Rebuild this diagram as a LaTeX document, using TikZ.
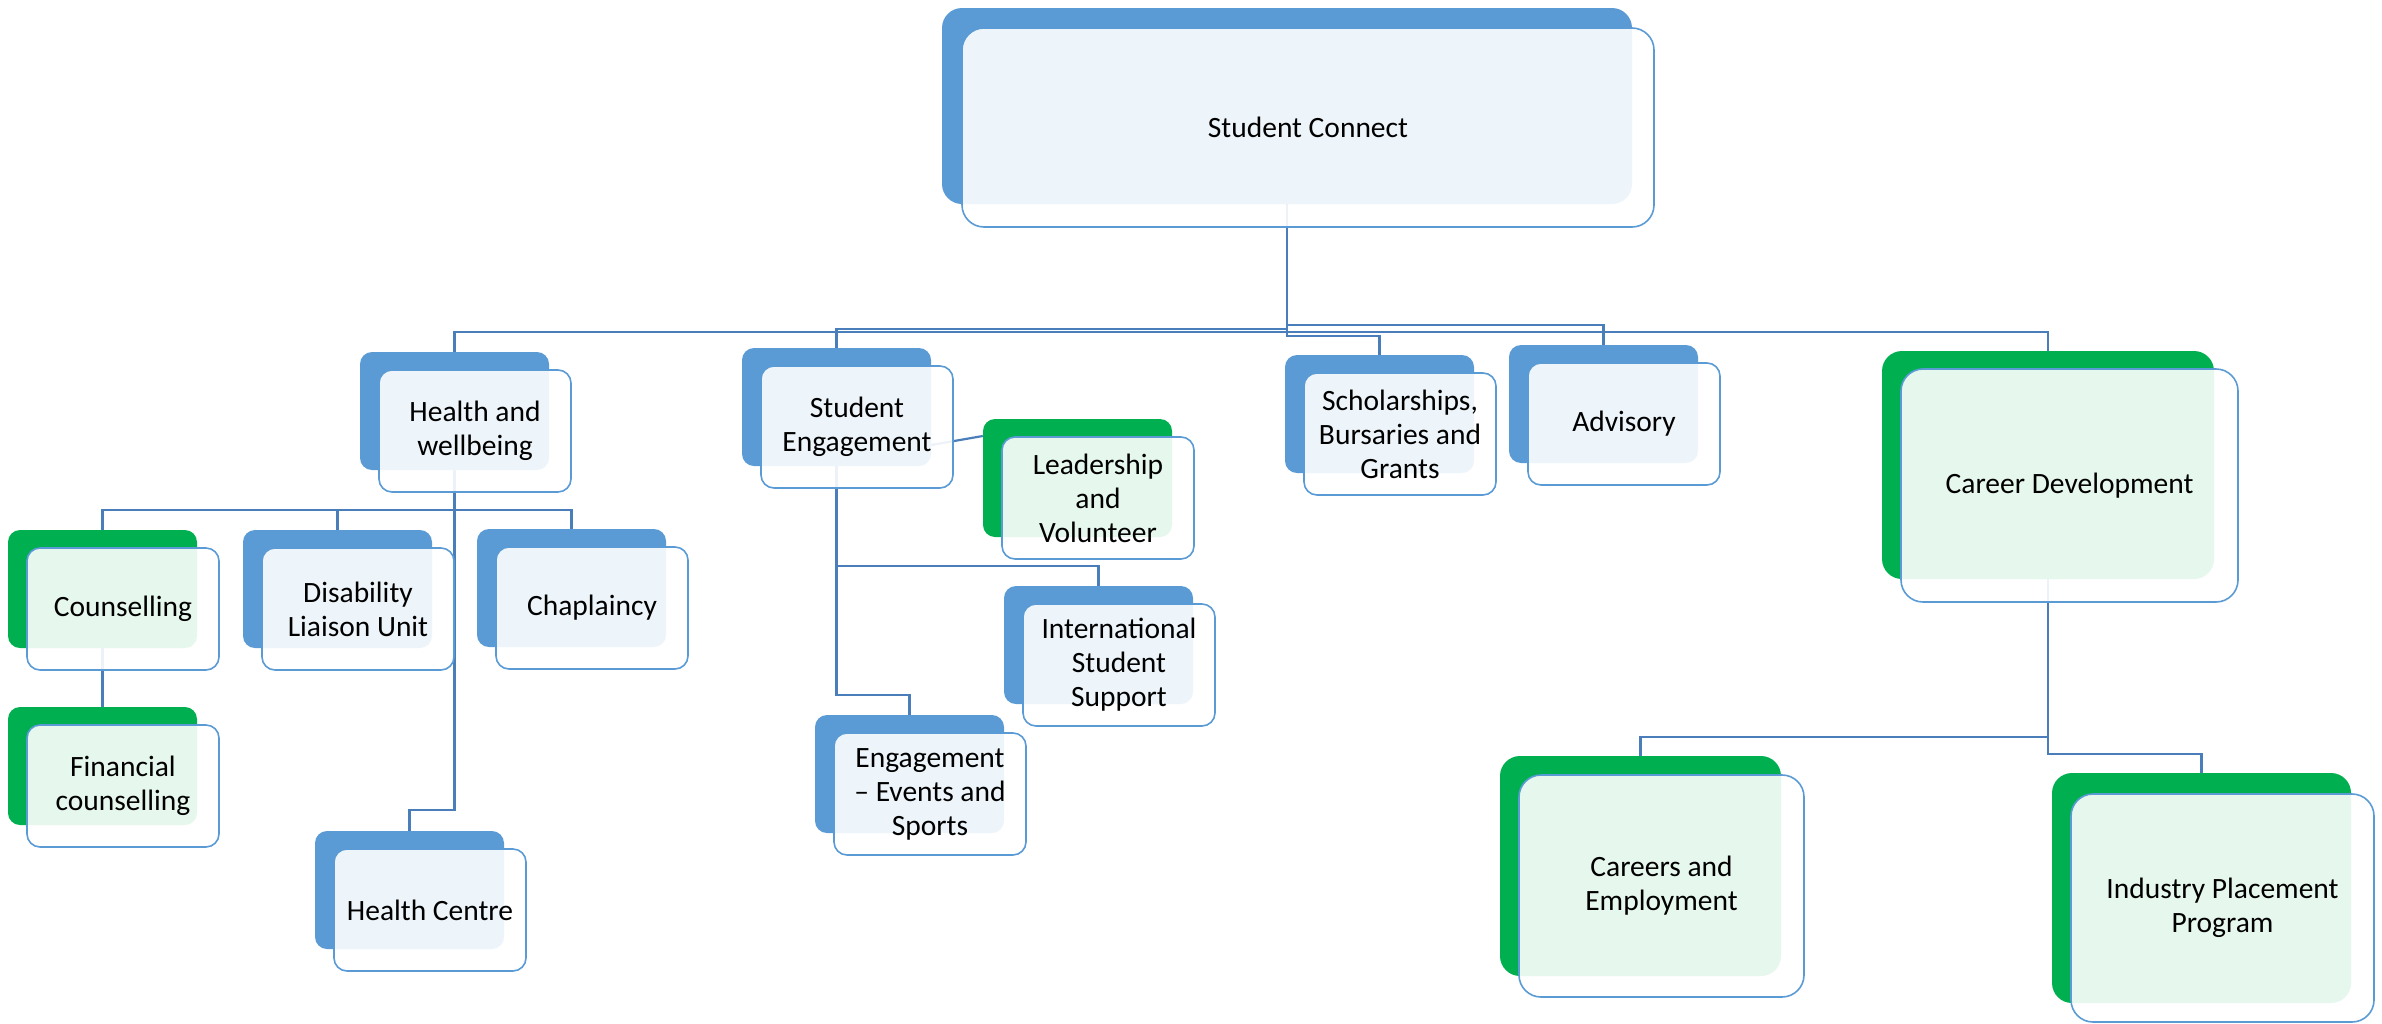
\documentclass[tikz,border=0pt]{standalone}
\usepackage{fontspec}
\setmainfont{Carlito}
\usetikzlibrary{calc,backgrounds}
\definecolor{boxblue}{HTML}{5B9BD5}
\definecolor{boxgreen}{HTML}{00B050}
\definecolor{linkblue}{HTML}{4A7EBB}

\begin{document}
\begin{tikzpicture}[x=1pt, y=-1pt,
    back/.style={rectangle, fill=#1, inner sep=0pt, rounded corners=12pt,
      minimum width=189pt, minimum height=118pt},
    front/.style={rectangle, draw=boxblue, line width=1.6pt, fill=white,
      fill opacity=0.9, text opacity=1, rounded corners=13pt, align=center,
      minimum width=192pt, minimum height=122pt, inner sep=2pt,
      font=\fontsize{29.5}{34}\selectfont},
    link/.style={draw=linkblue, line width=2.2pt}]
  \useasboundingbox (0,0) rectangle (2382,1023);

  \node[back=boxblue, minimum width=690pt, minimum height=196pt, rounded corners=20pt] (SCb) at (1287,106) {};
  \node[front, minimum width=692pt, minimum height=199pt, rounded corners=22pt] (SC) at ([shift={(21,21.5)}]SCb) {Student Connect};

  \node[back=boxblue] (HWb) at (454.5,411) {};
  \node[front] (HW) at ([shift={(20.5,20)}]HWb) {Health and\\wellbeing};
  \node[back=boxblue] (SEb) at (836.5,407) {};
  \node[front] (SE) at ([shift={(20.5,20)}]SEb) {Student\\Engagement};
  \node[back=boxblue] (SCHb) at (1379.5,414) {};
  \node[front] (SCH) at ([shift={(20.5,20)}]SCHb) {Scholarships,\\Bursaries and\\Grants};
  \node[back=boxblue] (ADVb) at (1603.5,404) {};
  \node[front] (ADV) at ([shift={(20.5,20)}]ADVb) {Advisory};
  \node[back=boxgreen, minimum width=332pt, minimum height=228pt, rounded corners=20pt] (CDb) at (2048,465) {};
  \node[front, minimum width=337pt, minimum height=233pt, rounded corners=22pt] (CD) at ([shift={(21.5,20.5)}]CDb) {Career Development};

  \node[back=boxgreen] (COUb) at (102.5,589) {};
  \node[front] (COU) at ([shift={(20.5,20)}]COUb) {Counselling};
  \node[back=boxblue] (DISb) at (337.5,589) {};
  \node[front] (DIS) at ([shift={(20.5,20)}]DISb) {Disability\\Liaison Unit};
  \node[back=boxblue] (CHAb) at (571.5,588) {};
  \node[front] (CHA) at ([shift={(20.5,20)}]CHAb) {Chaplaincy};
  \node[back=boxgreen] (FINb) at (102.5,766) {};
  \node[front] (FIN) at ([shift={(20.5,20)}]FINb) {Financial\\counselling};
  \node[back=boxblue] (HCb) at (409.5,890) {};
  \node[front] (HC) at ([shift={(20.5,20)}]HCb) {Health Centre};

  \node[back=boxgreen] (LVb) at (1077.5,478) {};
  \node[front] (LV) at ([shift={(20.5,20)}]LVb) {Leadership\\and\\Volunteer};
  \node[back=boxblue] (ISSb) at (1098.5,645) {};
  \node[front] (ISS) at ([shift={(20.5,20)}]ISSb) {International\\Student\\Support};
  \node[back=boxblue] (EESb) at (909.5,774) {};
  \node[front] (EES) at ([shift={(20.5,20)}]EESb) {Engagement\\– Events and\\Sports};

  \node[back=boxgreen, minimum width=281pt, minimum height=220pt, rounded corners=20pt] (CEb) at (1640.5,866) {};
  \node[front, minimum width=285pt, minimum height=222pt, rounded corners=22pt] (CE) at ([shift={(21,20)}]CEb) {Careers and\\Employment};
  \node[back=boxgreen, minimum width=299pt, minimum height=230pt, rounded corners=20pt] (IPPb) at (2201.5,888) {};
  \node[front, minimum width=303pt, minimum height=228pt, rounded corners=22pt] (IPP) at ([shift={(21,20)}]IPPb) {Industry Placement\\Program};

  \begin{scope}[on background layer]
    \draw[link] (SCb.center) -- (SCb.center |- 0,332) -| (HWb.north);
    \draw[link] (SCb.center) -- (SCb.center |- 0,329) -| (SEb.north);
    \draw[link] (SCb.center) -- (SCb.center |- 0,336) -| (SCHb.north);
    \draw[link] (SCb.center) -- (SCb.center |- 0,325) -| (ADVb.north);
    \draw[link] (SCb.center) -- (SCb.center |- 0,332) -| (CDb.north);
    \draw[link] (HWb.center) -- (HWb.center |- 0,510) -| (COUb.north);
    \draw[link] (HWb.center) -- (HWb.center |- 0,510) -| (DISb.north);
    \draw[link] (HWb.center) -- (HWb.center |- 0,510) -| (CHAb.north);
    \draw[link] (HWb.center) -- (HWb.center |- 0,810) -| (HCb.north);
    \draw[link] (COUb.center) -- (FINb.north);
    \draw[link] ([yshift=-38pt]SEb.east) -- ([yshift=42pt]LVb.west);
    \draw[link] (SEb.center) -- (SEb.center |- 0,566) -| (ISSb.north);
    \draw[link] (SEb.center) -- (SEb.center |- 0,695) -| (EESb.north);
    \draw[link] (CDb.center) -- (CDb.center |- 0,737) -| (CEb.north);
    \draw[link] (CDb.center) -- (CDb.center |- 0,754) -| (IPPb.north);
  \end{scope}
\end{tikzpicture}
\end{document}
